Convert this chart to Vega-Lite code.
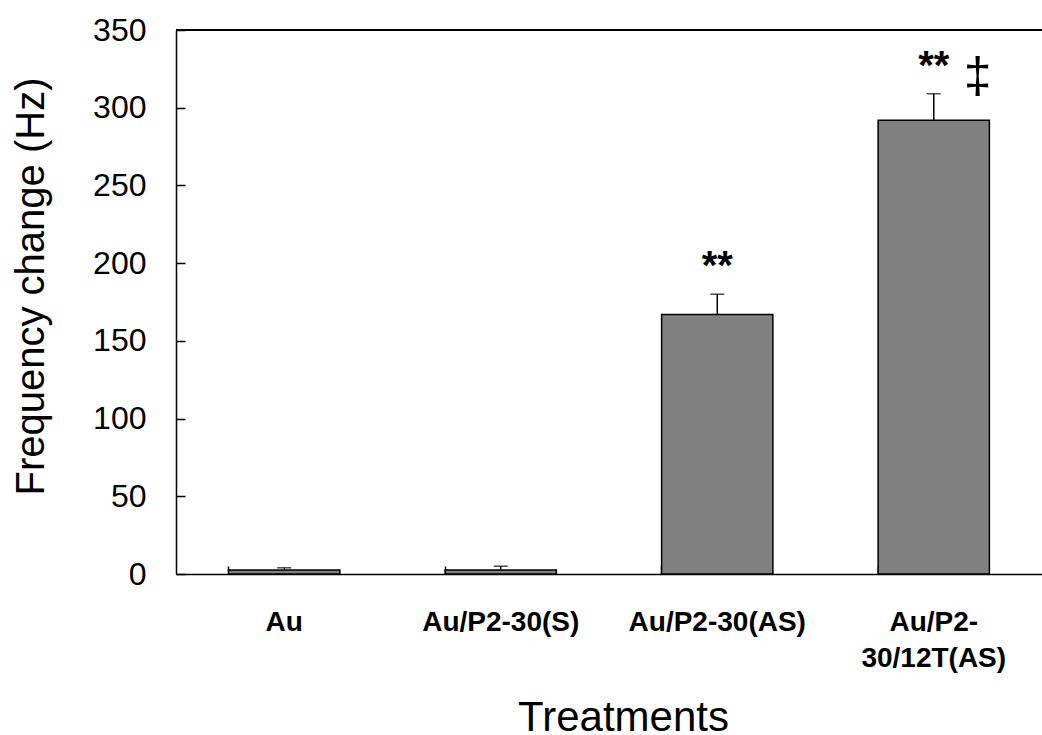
{
  "$schema": "https://vega.github.io/schema/vega-lite/v6.json",
  "autosize": {"type": "none"},
  "padding": {"left": 176, "top": 30, "right": 0, "bottom": 161},
  "width": 866,
  "height": 544,
  "background": "white",
  "config": {"view": {"stroke": null}, "font": "Liberation Sans"},
  "data": {
    "values": [
      {"treatment": "Au", "value": 2.5, "upper": 4, "sig": "", "dagger": ""},
      {"treatment": "Au/P2-30(S)", "value": 2.5, "upper": 5, "sig": "", "dagger": ""},
      {"treatment": "Au/P2-30(AS)", "value": 167, "upper": 180, "sig": "**", "dagger": ""},
      {"treatment": "Au/P2-30/12T(AS)", "value": 292, "upper": 309, "sig": "**", "dagger": "‡"}
    ]
  },
  "encoding": {
    "x": {
      "field": "treatment",
      "type": "nominal",
      "sort": null,
      "scale": {"paddingInner": 0.486, "paddingOuter": 0.243},
      "axis": {
        "title": "Treatments",
        "titleFontSize": 42,
        "titleFontWeight": "normal",
        "titleColor": "black",
        "titleX": 447,
        "titleY": 156,
        "titleBaseline": "alphabetic",
        "titleAlign": "center",
        "labelAngle": 0,
        "labelFontSize": 28,
        "labelFontWeight": "bold",
        "labelColor": "black",
        "labelPadding": 42,
        "labelLineHeight": 36,
        "labelExpr": "datum.label == 'Au/P2-30/12T(AS)' ? ['Au/P2-', '30/12T(AS)'] : datum.label",
        "bandPosition": 0,
        "tickSize": -8,
        "tickColor": "black",
        "tickWidth": 1.5,
        "domainColor": "black",
        "domainWidth": 1.5,
        "grid": false
      }
    }
  },
  "layer": [
    {
      "mark": {"type": "bar", "color": "#808080", "stroke": "black", "strokeWidth": 1.5},
      "encoding": {
        "y": {
          "field": "value",
          "type": "quantitative",
          "scale": {"domain": [0, 350], "nice": false},
          "axis": {
            "title": "Frequency change (Hz)",
            "titleFontSize": 40,
            "titleFontWeight": "normal",
            "titleColor": "black",
            "titleAngle": -90,
            "titleAlign": "center",
            "titleBaseline": "middle",
            "titleX": -145,
            "titleY": 256,
            "values": [0, 50, 100, 150, 200, 250, 300, 350],
            "labelFontSize": 32,
            "labelColor": "black",
            "labelPadding": 39,
            "tickSize": -9,
            "tickColor": "black",
            "tickWidth": 1.5,
            "domainColor": "black",
            "domainWidth": 1.5,
            "grid": false
          }
        }
      }
    },
    {
      "mark": {"type": "rule", "color": "black", "strokeWidth": 1.5},
      "encoding": {"y": {"field": "value", "type": "quantitative"}, "y2": {"field": "upper"}}
    },
    {
      "mark": {"type": "tick", "color": "black", "thickness": 1.5, "size": 14, "orient": "horizontal"},
      "encoding": {"y": {"field": "upper", "type": "quantitative"}}
    },
    {
      "mark": {"type": "text", "fontSize": 40, "fontWeight": "bold", "baseline": "alphabetic", "dy": -15, "color": "black"},
      "encoding": {"y": {"field": "upper", "type": "quantitative"}, "text": {"field": "sig"}}
    },
    {
      "mark": {"type": "text", "fontSize": 50, "baseline": "alphabetic", "dx": 44, "dy": -2, "color": "black"},
      "encoding": {"y": {"field": "upper", "type": "quantitative"}, "text": {"field": "dagger"}}
    },
    {
      "mark": {"type": "rule", "color": "black", "strokeWidth": 1.5},
      "encoding": {"y": {"datum": 350}, "x": {"value": 0}, "x2": {"value": 866}}
    }
  ]
}
